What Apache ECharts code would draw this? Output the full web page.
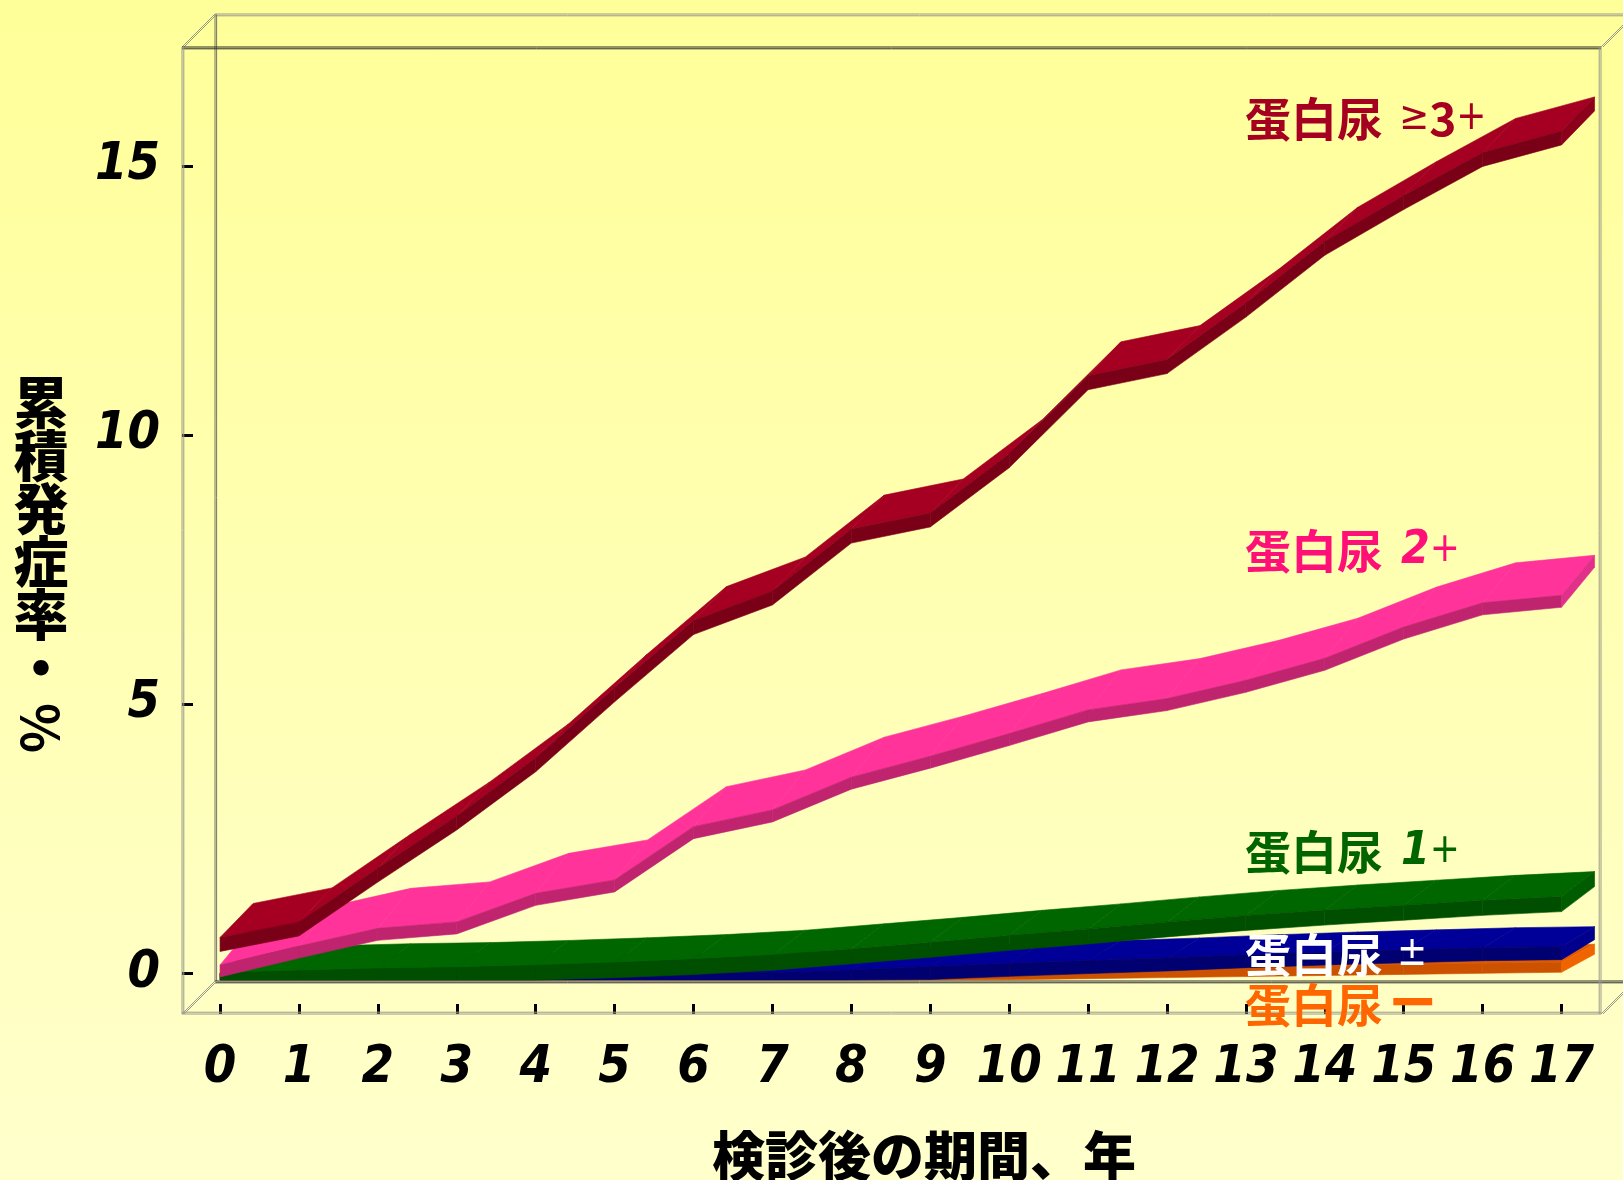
<!DOCTYPE html>
<html><head><meta charset="utf-8">
<script src="https://cdn.jsdelivr.net/npm/echarts@6/dist/echarts.min.js"></script>
<style>html,body{margin:0;padding:0;width:1623px;height:1180px;overflow:hidden;background:#ffffb0}#c{width:1623px;height:1180px}</style>
</head><body><div id="c"></div>
<script>
// ---- data ----
const years = [0,1,2,3,4,5,6,7,8,9,10,11,12,13,14,15,16,17];
const yTicks = [0,5,10,15];
const prot3 = [0.66,0.95,1.95,2.92,4.0,5.3,6.55,7.1,8.25,8.55,9.65,11.1,11.4,12.45,13.6,14.45,15.25,15.65];
const prot2 = [0.15,0.5,0.83,0.95,1.48,1.73,2.72,3.03,3.64,4.03,4.45,4.89,5.1,5.44,5.85,6.43,6.88,7.02];
const prot1 = [0,0.04,0.08,0.1,0.14,0.19,0.25,0.33,0.45,0.57,0.7,0.82,0.95,1.07,1.17,1.26,1.35,1.42];
const protPM = [0,0,0,0,0,0,0,0.01,0.06,0.12,0.18,0.23,0.28,0.34,0.39,0.43,0.47,0.49];
const protNeg = [0,0,0,0,0,0,0,0.01,0.03,0.04,0.06,0.08,0.1,0.12,0.14,0.16,0.18,0.2];
const seriesNames = ['蛋白尿 −','蛋白尿 ±','蛋白尿 1+','蛋白尿 2+','蛋白尿 ≥3+'];

// ---- axis extents / styles ----
const X_MIN = -0.482, X_MAX = 17.5, Y_MIN = -0.762, Y_MAX = 17.21, FLOOR = -0.13;
const DEPTH_X = 33, DEPTH_Y = 33;
const styles = [
  {top:'#e05a00', front:'#cc5200', cap:'#f06400', dy:18, t:10},
  {top:'#000099', front:'#000070', cap:'#00008c', dy:20, t:13},
  {top:'#006600', front:'#004f00', cap:'#005c00', dy:25, t:15},
  {top:'#ff3399', front:'#c0246f', cap:'#e0308a', dy:40, t:12},
  {top:'#a50021', front:'#7a0018', cap:'#8c001c', dy:34, t:14}
];
const values = [protNeg, protPM, prot1, prot2, prot3];

function segs(arr){
  const out = [];
  for (let i=0;i<arr.length-1;i++) out.push([years[i], arr[i], years[i+1], arr[i+1], i===arr.length-2?1:0]);
  return out;
}

function ribbon(st){
  return function(params, api){
    const x0=api.value(0), v0=api.value(1), x1=api.value(2), v1=api.value(3), last=api.value(4);
    const F0=api.coord([x0,v0]), F1=api.coord([x1,v1]);
    const fy=api.coord([0,FLOOR])[1];
    const cl=y=>Math.min(y,fy);
    const a=[F0[0],cl(F0[1])], b=[F1[0],cl(F1[1])];
    const B0=[F0[0]+DEPTH_X, cl(F0[1]-st.dy)], B1=[F1[0]+DEPTH_X, cl(F1[1]-st.dy)];
    const a2=[F0[0],cl(F0[1]+st.t)], b2=[F1[0],cl(F1[1]+st.t)];
    const ch=[
      {type:'polygon', shape:{points:[a,b,B1,B0]}, style:{fill:st.top, stroke:st.top, lineWidth:0.6}},
      {type:'polygon', shape:{points:[a,b,b2,a2]}, style:{fill:st.front, stroke:st.front, lineWidth:0.6}}
    ];
    if (last){
      const B1b=[B1[0], cl(F1[1]-st.dy+st.t)];
      ch.push({type:'polygon', shape:{points:[b,B1,B1b,b2]}, style:{fill:st.cap, stroke:st.cap, lineWidth:0.6}});
    }
    return {type:'group', children:ch};
  };
}

function frameItem(params, api){
  const fl=api.coord([X_MIN,Y_MIN]), fr=api.coord([X_MAX,Y_MIN]);
  const tl=api.coord([X_MIN,Y_MAX]), tr=api.coord([X_MAX,Y_MAX]);
  const d=(p)=>[p[0]+DEPTH_X, p[1]-DEPTH_Y];
  const L=[];
  function dbl(p,q,color,ox,oy){
    L.push({type:'line',shape:{x1:p[0],y1:p[1],x2:q[0],y2:q[1]},style:{stroke:color,lineWidth:1}});
    L.push({type:'line',shape:{x1:p[0]+ox,y1:p[1]+oy,x2:q[0]+ox,y2:q[1]+oy},style:{stroke:color,lineWidth:1}});
  }
  const g='#9a9a8a', dk='#2a2a2a', mid='#777766';
  dbl(d(tl), d(tr), g, 0, 1.8);
  dbl(d(tl), d(fl), mid, 1.6, 0);
  dbl(d(fl), d(fr), dk, 0, 1.8);
  dbl(d(fr), d(tr), g, 1.6, 0);
  dbl(tl, d(tl), g, 2, 0);
  dbl(fl, d(fl), g, 2, 0);
  dbl(tr, d(tr), g, 2, 0);
  dbl(fr, d(fr), g, 2, 0);
  dbl(tl, tr, dk, 0, 1.8);
  dbl(tl, fl, g, 1.8, 0);
  dbl(fl, fr, g, 0, -1.8);
  dbl(fr, tr, g, -1.8, 0);
  return {type:'group', children:L};
}

const numFont = "'DejaVu Sans Condensed','DejaVu Sans',sans-serif";
const cjk = "'Noto Sans CJK JP','Noto Sans',sans-serif";

const series = [{
  type:'custom', coordinateSystem:'cartesian2d', data:[[0,0]], renderItem:frameItem, silent:true, z:1
}];
values.forEach((arr,k)=>{
  series.push({type:'custom', name:seriesNames[k], coordinateSystem:'cartesian2d',
    data:segs(arr), renderItem:ribbon(styles[k]), z:3+k, silent:true,
    encode:{x:[0,2], y:[1,3]}});
});

function lab(color, gap){
  return {
    k:{fontSize:46,fontWeight:'bold',fontFamily:cjk,fill:color},
    s:{fontSize:40,fontFamily:numFont,fill:color},
    n:{fontSize:46,fontWeight:'bold',fontStyle:'italic',fontFamily:numFont,fill:color},
    m:{fontSize:62,fontWeight:'bold',fontFamily:"'DejaVu Sans',sans-serif",fill:color},
    g:{fontSize:12,fill:color,width:gap||10}
  };
}

const chart = echarts.init(document.getElementById('c'), null, {renderer:'canvas'});
chart.setOption({
  backgroundColor:{type:'linear',x:0,y:0,x2:0,y2:1,colorStops:[{offset:0,color:'#ffff99'},{offset:1,color:'#ffffcc'}]},
  animation:false,
  grid:{left:182, top:47, width:1419, height:967},
  xAxis:{type:'value', min:X_MIN, max:X_MAX, splitLine:{show:false}, axisLine:{show:false, onZero:false},
    axisTick:{show:true, inside:true, length:10, customValues:years, lineStyle:{color:'#000', width:3}},
    axisLabel:{customValues:years, margin:28, color:'#000', fontSize:52, fontWeight:'bold', fontStyle:'italic', fontFamily:numFont}},
  yAxis:{type:'value', min:Y_MIN, max:Y_MAX, splitLine:{show:false}, axisLine:{show:false, onZero:false},
    axisTick:{show:true, inside:true, length:11, customValues:yTicks, lineStyle:{color:'#000', width:3}},
    axisLabel:{customValues:yTicks, margin:22, color:'#000', fontSize:52, fontWeight:'bold', fontStyle:'italic', fontFamily:numFont}},
  series:series,
  graphic:[
    {type:'text', z:100, x:41, y:376, style:{text:'累\n積\n発\n症\n率\n・', align:'center', verticalAlign:'top', fontSize:55, fontWeight:900, fontFamily:cjk, lineHeight:53, fill:'#000'}},
    {type:'text', z:100, x:41, y:728, rotation:-Math.PI/2, style:{text:'%', align:'center', verticalAlign:'middle', fontSize:52, fontWeight:'bold', fontFamily:cjk, fill:'#000'}},
    {type:'text', z:100, x:924, y:1156, style:{text:'検診後の期間、年', align:'center', verticalAlign:'middle', fontSize:53, fontWeight:900, fontFamily:cjk, fill:'#000'}},
    {type:'text', z:100, x:1245, y:119, style:{text:'{k|蛋白尿}{g|}{s|≥}{k|3}{s|+}', align:'left', verticalAlign:'middle', rich:lab('#a50021',16)}},
    {type:'text', z:100, x:1245, y:551, style:{text:'{k|蛋白尿}{g|}{n|2}{s|+}', align:'left', verticalAlign:'middle', rich:lab('#ff0f78',18)}},
    {type:'text', z:100, x:1245, y:852, style:{text:'{k|蛋白尿}{g|}{n|1}{s|+}', align:'left', verticalAlign:'middle', rich:lab('#006400',18)}},
    {type:'text', z:100, x:1245, y:955, style:{text:'{k|蛋白尿}{g|}{s|±}', align:'left', verticalAlign:'middle', rich:lab('#ffffff',14)}},
    {type:'text', z:100, x:1245, y:1005, style:{text:'{k|蛋白尿}{g|}{m|−}', align:'left', verticalAlign:'middle', rich:lab('#ff6600',4)}}
  ]
});
</script>
</body></html>
